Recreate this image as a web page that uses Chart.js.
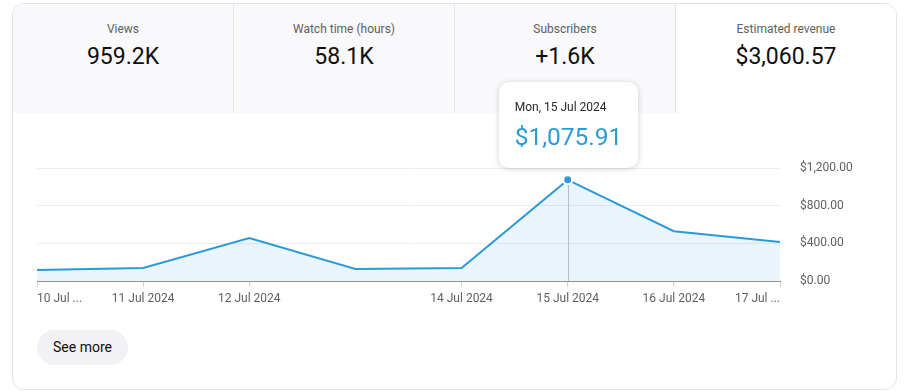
<!DOCTYPE html>
<html>
<head>
<meta charset="UTF-8">
<title>Revenue chart</title>
<script src="https://cdn.jsdelivr.net/npm/chart.js"></script>
<style>
  body { margin: 0; background: #fff; font-family: Roboto, "Noto Sans", sans-serif; }
  .card { position: absolute; left: 12px; top: 3px; width: 883px; height: 385px;
          border: 1px solid #e3e3e3; border-radius: 12px; overflow: hidden; background: #fff; }
  .tiles { display: flex; height: 109px; }
  .tile { flex: 1; background: #f9f8fb; border-left: 1px solid #e3e3e3; text-align: center; }
  .tile:first-child { border-left: none; }
  .tile.active { background: #fff; }
  .tile .name { font-size: 12px; color: #606060; margin-top: 18px; line-height: 14px; }
  .tile .val { font-size: 23px; color: #0f0f0f; margin-top: 7px; line-height: 28px; }
  #wrap { position: absolute; left: 20px; top: 141px; width: 860px; height: 169px; }
  #tip { position: absolute; background: #fff; border-radius: 10px; width: 139px; height: 86px;
         box-shadow: 0 1px 6px rgba(0,0,0,0.18); box-sizing: border-box; padding: 18px 0 0 16px; z-index: 5; }
  #tip .t { font-size: 12px; color: #282828; line-height: 14px; }
  #tip .v { font-size: 24.5px; color: #2d9ad8; margin-top: 9px; line-height: 28px; }
  .btn { position: absolute; left: 37px; top: 330px; width: 91px; height: 35px; border-radius: 18px;
         background: #f2f1f4; font-size: 14px; color: #0f0f0f; text-align: center; line-height: 35px; }
</style>
</head>
<body>
<div class="card">
  <div class="tiles">
    <div class="tile"><div class="name">Views</div><div class="val">959.2K</div></div>
    <div class="tile"><div class="name">Watch time (hours)</div><div class="val">58.1K</div></div>
    <div class="tile"><div class="name">Subscribers</div><div class="val">+1.6K</div></div>
    <div class="tile active"><div class="name">Estimated revenue</div><div class="val">$3,060.57</div></div>
  </div>
</div>
<div id="wrap"><canvas id="chart"></canvas></div>
<div id="tip"><div class="t" id="tipTitle"></div><div class="v" id="tipVal"></div></div>
<div class="btn">See more</div>

<script>
const dates = ['Wed, 10 Jul 2024', 'Thu, 11 Jul 2024', 'Fri, 12 Jul 2024', 'Sat, 13 Jul 2024',
               'Sun, 14 Jul 2024', 'Mon, 15 Jul 2024', 'Tue, 16 Jul 2024', 'Wed, 17 Jul 2024'];
const tickLabels = ['10 Jul ...', '11 Jul 2024', '12 Jul 2024', '', '14 Jul 2024', '15 Jul 2024', '16 Jul 2024', '17 Jul ...'];
const revenue = [117, 138, 456, 127, 138, 1075.91, 530, 414];
const yTicks = [0, 400, 800, 1200];
const activeIndex = 5;

const money = v => '$' + v.toLocaleString('en-US', { minimumFractionDigits: 2, maximumFractionDigits: 2 });

// vertical line from the active point down to the axis
const crosshair = {
    id: 'crosshair',
    beforeDatasetsDraw(chart) {
        const pt = chart.getDatasetMeta(0).data[activeIndex];
        const ctx = chart.ctx;
        ctx.save();
        ctx.strokeStyle = '#c4c4c4';
        ctx.lineWidth = 1;
        ctx.beginPath();
        ctx.moveTo(Math.round(pt.x) + 0.5, pt.y);
        ctx.lineTo(Math.round(pt.x) + 0.5, chart.chartArea.bottom);
        ctx.stroke();
        ctx.restore();
    }
};

const chart = new Chart(document.getElementById('chart'), {
    type: 'line',
    data: {
        labels: dates,
        datasets: [{
            data: revenue,
            borderColor: '#2d9ad8',
            borderWidth: 2,
            backgroundColor: 'rgba(45,154,216,0.1)',
            fill: 'origin',
            tension: 0,
            pointRadius: revenue.map((v, i) => i == activeIndex ? 4.5 : 0),
            pointBackgroundColor: '#2d9ad8',
            pointBorderColor: '#fff',
            pointBorderWidth: 2,
            pointHoverRadius: 0
        }]
    },
    options: {
        responsive: true,
        maintainAspectRatio: false,
        animation: false,
        events: [],
        layout: { padding: { left: 17, top: 9, right: 0, bottom: 0 } },
        plugins: {
            legend: { display: false },
            tooltip: { enabled: false }
        },
        scales: {
            x: {
                offset: false,
                grid: {
                    drawOnChartArea: false,
                    tickLength: 6,
                    color: ctx => tickLabels[ctx.index] ? '#d0d0d0' : 'rgba(0,0,0,0)'
                },
                border: { color: '#909090' },
                ticks: {
                    autoSkip: false,
                    maxRotation: 0,
                    align: 'inner',
                    padding: 5,
                    color: '#606060',
                    font: { family: 'Roboto', size: 12 },
                    callback: (v, i) => tickLabels[i]
                },
                afterFit: s => { s.height = 29; }
            },
            y: {
                position: 'right',
                min: 0,
                max: 1200,
                afterBuildTicks: s => { s.ticks = yTicks.map(v => ({ value: v })); },
                grid: { color: '#eeeeee', drawTicks: false },
                border: { display: false },
                ticks: {
                    padding: 20,
                    color: '#606060',
                    font: { family: 'Roboto', size: 12 },
                    callback: v => money(v)
                },
                afterFit: s => { s.width = 100; }
            }
        }
    },
    plugins: [crosshair]
});

// html tooltip above the active point
const pt = chart.getDatasetMeta(0).data[activeIndex];
const box = document.getElementById('wrap').getBoundingClientRect();
const tip = document.getElementById('tip');
document.getElementById('tipTitle').textContent = dates[activeIndex];
document.getElementById('tipVal').textContent = money(revenue[activeIndex]);
tip.style.left = (box.left + pt.x - 69) + 'px';
tip.style.top = (box.top + pt.y - 98) + 'px';
</script>
</body>
</html>
